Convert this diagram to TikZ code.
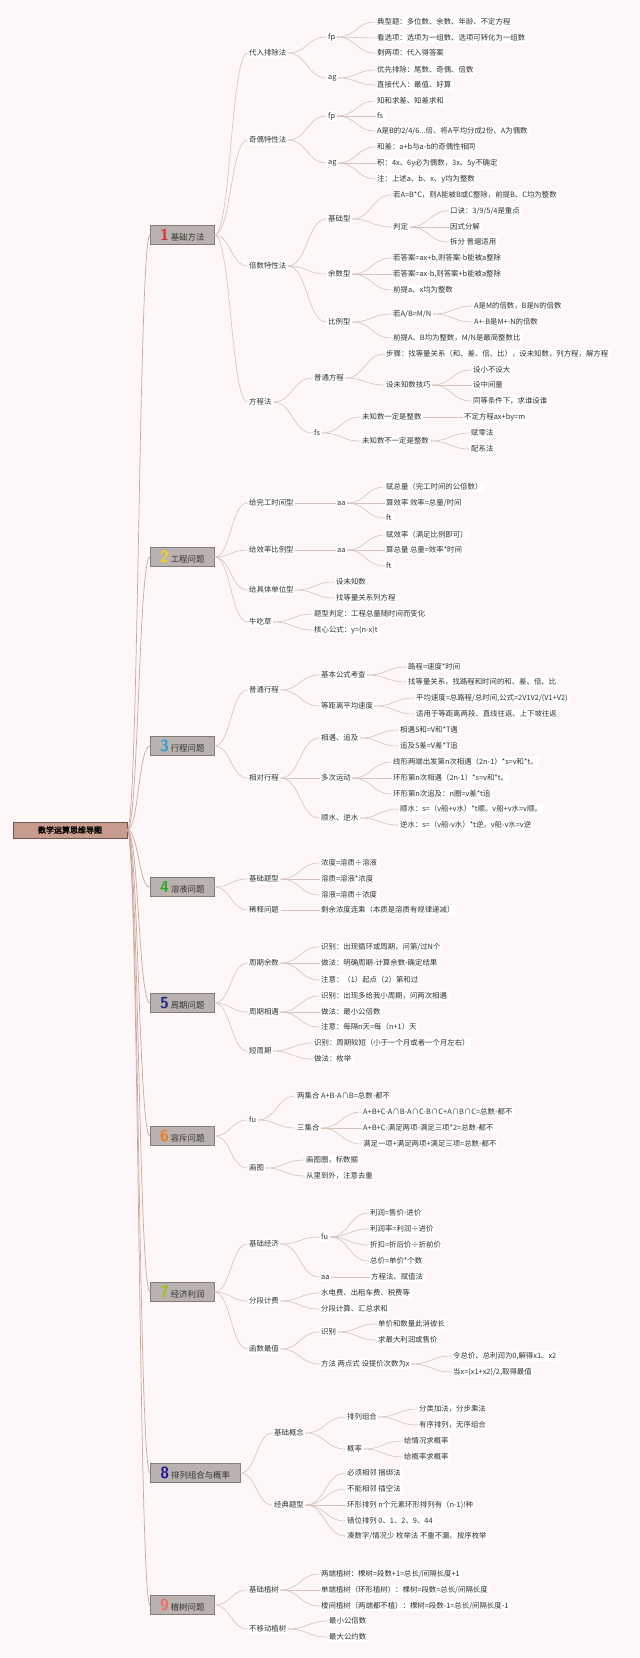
\documentclass[tikz,border=0pt]{standalone}
\usepackage{fontspec}
\newfontfamily\cjk{Noto Sans CJK SC}
\newfontfamily\cjkbold[FakeBold=2]{Noto Sans CJK SC}
\usetikzlibrary{calc}
\definecolor{paper}{HTML}{FDF7F7}
\definecolor{twigcol}{HTML}{D8C2BB}
\definecolor{trunkcol}{HTML}{CDA79E}
\definecolor{rootfill}{HTML}{C99B8E}
\definecolor{topicfill}{HTML}{B9B2AE}
\definecolor{ink}{HTML}{333333}
\definecolor{n1}{HTML}{E02B3C}
\definecolor{n2}{HTML}{F3D31A}
\definecolor{n3}{HTML}{2F9BD8}
\definecolor{n4}{HTML}{2EA52E}
\definecolor{n5}{HTML}{202A80}
\definecolor{n6}{HTML}{F57C1F}
\definecolor{n7}{HTML}{9AC21E}
\definecolor{n8}{HTML}{2516A0}
\definecolor{n9}{HTML}{F26B6B}
\tikzset{
  txt/.style={anchor=west,xshift=-1.5pt,inner sep=1.5pt,fill=white,text=ink,font=\cjk\fontsize{7.4}{8}\selectfont},
  topic/.style={anchor=west,draw=topicfill!70!black,fill=topicfill,minimum width=64pt,minimum height=19pt,inner sep=2pt,text=ink,font=\cjk\fontsize{8.4}{9}\selectfont},
  rootbox/.style={draw=rootfill!55!black,fill=rootfill,minimum width=114pt,minimum height=16pt,inner sep=2pt,text=black,font=\cjkbold\fontsize{8}{9}\selectfont},
  branch/.style={draw=twigcol,line width=0.6pt},
  trunk/.style={draw=trunkcol,line width=0.7pt},
}
\newcommand\link[3][branch]{\draw[#1] let \p1=(#2.east), \p2=(#3.west) in (\p1) .. controls ({(\x1+\x2)/2},\y1) and ({(\x1+\x2)/2},\y2) .. (\p2);}
\newcommand\twig[4]{\node (#2) at (#3) [txt] {#4};\link{#1}{#2}}
\newcommand\topicno[2]{\textcolor{#1}{\sffamily\bfseries\fontsize{16}{16}\selectfont #2}\hspace{2pt}}

\begin{document}
\begin{tikzpicture}[x=1pt,y=-1pt]
\useasboundingbox (0,0) rectangle (640,1658);
\fill[paper] (0,0) rectangle (640,1658);

\node (root) at (70,830) [rootbox] {数学运算思维导图};
\node (b1) at (150,235) [topic] {\topicno{n1}{1}基础方法};
\node (b2) at (150,557) [topic] {\topicno{n2}{2}工程问题};
\node (b3) at (150,746) [topic] {\topicno{n3}{3}行程问题};
\node (b4) at (150,887) [topic] {\topicno{n4}{4}溶液问题};
\node (b5) at (150,1003) [topic] {\topicno{n5}{5}周期问题};
\node (b6) at (150,1136) [topic] {\topicno{n6}{6}容斥问题};
\node (b7) at (150,1292) [topic] {\topicno{n7}{7}经济利润};
\node (b8) at (150,1473) [topic,minimum width=90pt] {\topicno{n8}{8}排列组合与概率};
\node (b9) at (150,1605) [topic] {\topicno{n9}{9}植树问题};
\link[trunk]{root}{b1}
\link[trunk]{root}{b2}
\link[trunk]{root}{b3}
\link[trunk]{root}{b4}
\link[trunk]{root}{b5}
\link[trunk]{root}{b6}
\link[trunk]{root}{b7}
\link[trunk]{root}{b8}
\link[trunk]{root}{b9}

\twig{b1}{b1a}{249,53}{代入排除法}
\twig{b1a}{b1a1}{328,37}{fp}
\twig{b1a1}{b1a1a}{377,22}{典型题：多位数、余数、年龄、不定方程}
\twig{b1a1}{b1a1b}{377,38}{看选项：选项为一组数、选项可转化为一组数}
\twig{b1a1}{b1a1c}{377,53}{剩两项：代入得答案}
\twig{b1a}{b1a2}{328,78}{ag}
\twig{b1a2}{b1a2a}{377,70}{优先排除：尾数、奇偶、倍数}
\twig{b1a2}{b1a2b}{377,85}{直接代入：最值、好算}
\twig{b1}{b1b}{249,140}{奇偶特性法}
\twig{b1b}{b1b1}{328,116}{fp}
\twig{b1b1}{b1b1a}{377,101}{知和求差、知差求和}
\twig{b1b1}{b1b1b}{377,116}{fs}
\twig{b1b1}{b1b1c}{377,131}{A是B的2/4/6...倍、将A平均分成2份、A为偶数}
\twig{b1b}{b1b2}{328,163}{ag}
\twig{b1b2}{b1b2a}{377,147}{和差：a+b与a-b的奇偶性相同}
\twig{b1b2}{b1b2b}{377,163}{积：4x、6y必为偶数，3x、5y不确定}
\twig{b1b2}{b1b2c}{377,179}{注：上述a、b、x、y均为整数}
\twig{b1}{b1c}{249,266}{倍数特性法}
\twig{b1c}{b1c1}{328,219}{基础型}
\twig{b1c1}{b1c1a}{393,195}{若A=B*C，则A能被B或C整除，前提B、C均为整数}
\twig{b1c1}{b1c1b}{393,227}{判定}
\twig{b1c1b}{b1c1b1}{450,211}{口诀：3/9/5/4是重点}
\twig{b1c1b}{b1c1b2}{450,227}{因式分解}
\twig{b1c1b}{b1c1b3}{450,242}{拆分 普遍适用}
\twig{b1c}{b1c2}{328,274}{余数型}
\twig{b1c2}{b1c2a}{393,258}{若答案=ax+b,则答案-b能被a整除}
\twig{b1c2}{b1c2b}{393,274}{若答案=ax-b,则答案+b能被a整除}
\twig{b1c2}{b1c2c}{393,290}{前提a、x均为整数}
\twig{b1c}{b1c3}{328,322}{比例型}
\twig{b1c3}{b1c3a}{393,314}{若A/B=M/N}
\twig{b1c3a}{b1c3a1}{474,306}{A是M的倍数，B是N的倍数}
\twig{b1c3a}{b1c3a2}{474,322}{A+-B是M+-N的倍数}
\twig{b1c3}{b1c3b}{393,338}{前提A、B均为整数，M/N是最简整数比}
\twig{b1}{b1d}{249,402}{方程法}
\twig{b1d}{b1d1}{314,378}{普通方程}
\twig{b1d1}{b1d1a}{386,354}{步骤：找等量关系（和、差、倍、比），设未知数，列方程，解方程}
\twig{b1d1}{b1d1b}{386,385}{设未知数技巧}
\twig{b1d1b}{b1d1b1}{473,370}{设小不设大}
\twig{b1d1b}{b1d1b2}{473,385}{设中间量}
\twig{b1d1b}{b1d1b3}{473,401}{同等条件下，求谁设谁}
\twig{b1d}{b1d2}{314,433}{fs}
\twig{b1d2}{b1d2a}{362,417}{未知数一定是整数}
\twig{b1d2a}{b1d2a1}{464,417}{不定方程ax+by=m}
\twig{b1d2}{b1d2b}{362,441}{未知数不一定是整数}
\twig{b1d2b}{b1d2b1}{471,433}{赋零法}
\twig{b1d2b}{b1d2b2}{471,449}{配系法}

\twig{b2}{b2a}{249,503}{给完工时间型}
\twig{b2a}{b2a1}{337,503}{aa}
\twig{b2a1}{b2a1a}{386,487}{赋总量（完工时间的公倍数）}
\twig{b2a1}{b2a1b}{386,503}{算效率 效率=总量/时间}
\twig{b2a1}{b2a1c}{386,518}{ft}
\twig{b2}{b2b}{249,550}{给效率比例型}
\twig{b2b}{b2b1}{337,550}{aa}
\twig{b2b1}{b2b1a}{386,535}{赋效率（满足比例即可）}
\twig{b2b1}{b2b1b}{386,550}{算总量 总量=效率*时间}
\twig{b2b1}{b2b1c}{386,566}{ft}
\twig{b2}{b2c}{249,590}{给具体单位型}
\twig{b2c}{b2c1}{336,582}{设未知数}
\twig{b2c}{b2c2}{336,598}{找等量关系列方程}
\twig{b2}{b2d}{249,622}{牛吃草}
\twig{b2d}{b2d1}{314,614}{题型判定：工程总量随时间而变化}
\twig{b2d}{b2d2}{314,630}{核心公式：y=(n-x)t}

\twig{b3}{b3a}{249,690}{普通行程}
\twig{b3a}{b3a1}{321,675}{基本公式考查}
\twig{b3a1}{b3a1a}{408,667}{路程=速度*时间}
\twig{b3a1}{b3a1b}{408,682}{找等量关系，找路程和时间的和、差、倍、比}
\twig{b3a}{b3a2}{321,706}{等距离平均速度}
\twig{b3a2}{b3a2a}{416,698}{平均速度=总路程/总时间,公式=2V1V2/(V1+V2)}
\twig{b3a2}{b3a2b}{416,714}{适用于等距离两段、直线往返、上下坡往返}
\twig{b3}{b3b}{249,778}{相对行程}
\twig{b3b}{b3b1}{321,738}{相遇、追及}
\twig{b3b1}{b3b1a}{400,730}{相遇S和=V和*T遇}
\twig{b3b1}{b3b1b}{400,746}{追及S差=V差*T追}
\twig{b3b}{b3b2}{321,778}{多次运动}
\twig{b3b2}{b3b2a}{393,762}{线形两端出发第n次相遇（2n-1）*s=v和*t。}
\twig{b3b2}{b3b2b}{393,778}{环形第n次相遇（2n-1）*s=v和*t。}
\twig{b3b2}{b3b2c}{393,794}{环形第n次追及：n圈=v差*t追}
\twig{b3b}{b3b3}{321,818}{顺水、逆水}
\twig{b3b3}{b3b3a}{400,809}{顺水：s=（v船+v水）*t顺。v船+v水=v顺。}
\twig{b3b3}{b3b3b}{400,825}{逆水：s=（v船-v水）*t逆。v船-v水=v逆}

\twig{b4}{b4a}{249,879}{基础题型}
\twig{b4a}{b4a1}{321,863}{浓度=溶质÷溶液}
\twig{b4a}{b4a2}{321,879}{溶质=溶液*浓度}
\twig{b4a}{b4a3}{321,895}{溶液=溶质÷浓度}
\twig{b4}{b4b}{249,910}{稀释问题}
\twig{b4b}{b4b1}{321,910}{剩余浓度连乘（本质是溶质有规律递减）}

\twig{b5}{b5a}{249,963}{周期余数}
\twig{b5a}{b5a1}{321,947}{识别：出现循环或周期，问第/过N个}
\twig{b5a}{b5a2}{321,963}{做法：明确周期-计算余数-确定结果}
\twig{b5a}{b5a3}{321,980}{注意：（1）起点（2）第和过}
\twig{b5}{b5b}{249,1012}{周期相遇}
\twig{b5b}{b5b1}{321,996}{识别：出现多给我小周期，问两次相遇}
\twig{b5b}{b5b2}{321,1012}{做法：最小公倍数}
\twig{b5b}{b5b3}{321,1027}{注意：每隔n天=每（n+1）天}
\twig{b5}{b5c}{249,1051}{短周期}
\twig{b5c}{b5c1}{314,1043}{识别：周期较短（小于一个月或者一个月左右）}
\twig{b5c}{b5c2}{314,1059}{做法：枚举}

\twig{b6}{b6a}{249,1120}{fu}
\twig{b6a}{b6a1}{297,1096}{两集合 A+B-A∩B=总数-都不}
\twig{b6a}{b6a2}{297,1128}{三集合}
\twig{b6a2}{b6a2a}{363,1112}{A+B+C-A∩B-A∩C-B∩C+A∩B∩C=总数-都不}
\twig{b6a2}{b6a2b}{363,1128}{A+B+C-满足两项-满足三项*2=总数-都不}
\twig{b6a2}{b6a2c}{363,1144}{满足一项+满足两项+满足三项=总数-都不}
\twig{b6}{b6b}{249,1168}{画图}
\twig{b6b}{b6b1}{306,1160}{画图圈，标数据}
\twig{b6b}{b6b2}{306,1176}{从里到外，注意去重}

\twig{b7}{b7a}{249,1244}{基础经济}
\twig{b7a}{b7a1}{321,1237}{fu}
\twig{b7a1}{b7a1a}{370,1213}{利润=售价-进价}
\twig{b7a1}{b7a1b}{370,1229}{利润率=利润÷进价}
\twig{b7a1}{b7a1c}{370,1245}{折扣=折后价÷折前价}
\twig{b7a1}{b7a1d}{370,1261}{总价=单价*个数}
\twig{b7a}{b7a2}{321,1277}{aa}
\twig{b7a2}{b7a2a}{371,1277}{方程法、赋值法}
\twig{b7}{b7b}{249,1301}{分段计费}
\twig{b7b}{b7b1}{321,1293}{水电费、出租车费、税费等}
\twig{b7b}{b7b2}{321,1309}{分段计算、汇总求和}
\twig{b7}{b7c}{249,1349}{函数最值}
\twig{b7c}{b7c1}{321,1332}{识别}
\twig{b7c1}{b7c1a}{378,1324}{单价和数量此消彼长}
\twig{b7c1}{b7c1b}{378,1340}{求最大利润或售价}
\twig{b7c}{b7c2}{321,1364}{方法 两点式 设提价次数为x}
\twig{b7c2}{b7c2a}{453,1356}{令总价、总利润为0,解得x1、x2}
\twig{b7c2}{b7c2b}{453,1372}{当x=(x1+x2)/2,取得最值}

\twig{b8}{b8a}{274,1433}{基础概念}
\twig{b8a}{b8a1}{347,1417}{排列组合}
\twig{b8a1}{b8a1a}{419,1409}{分类加法，分步乘法}
\twig{b8a1}{b8a1b}{419,1425}{有序排列，无序组合}
\twig{b8a}{b8a2}{347,1449}{概率}
\twig{b8a2}{b8a2a}{404,1441}{给情况求概率}
\twig{b8a2}{b8a2b}{404,1457}{给概率求概率}
\twig{b8}{b8b}{274,1505}{经典题型}
\twig{b8b}{b8b1}{347,1473}{必须相邻 捆绑法}
\twig{b8b}{b8b2}{347,1489}{不能相邻 插空法}
\twig{b8b}{b8b3}{347,1505}{环形排列 n个元素环形排列有（n-1)!种}
\twig{b8b}{b8b4}{347,1521}{错位排列 0、1、2、9、44}
\twig{b8b}{b8b5}{347,1536}{凑数字/情况少 枚举法 不重不漏、按序枚举}

\twig{b9}{b9a}{249,1590}{基础植树}
\twig{b9a}{b9a1}{321,1574}{两端植树：棵树=段数+1=总长/间隔长度+1}
\twig{b9a}{b9a2}{321,1590}{单端植树（环形植树）：棵树=段数=总长/间隔长度}
\twig{b9a}{b9a3}{321,1606}{楼间植树（两端都不植）：棵树=段数-1=总长/间隔长度-1}
\twig{b9}{b9b}{249,1629}{不移动植树}
\twig{b9b}{b9b1}{329,1621}{最小公倍数}
\twig{b9b}{b9b2}{329,1637}{最大公约数}
\end{tikzpicture}
\end{document}
